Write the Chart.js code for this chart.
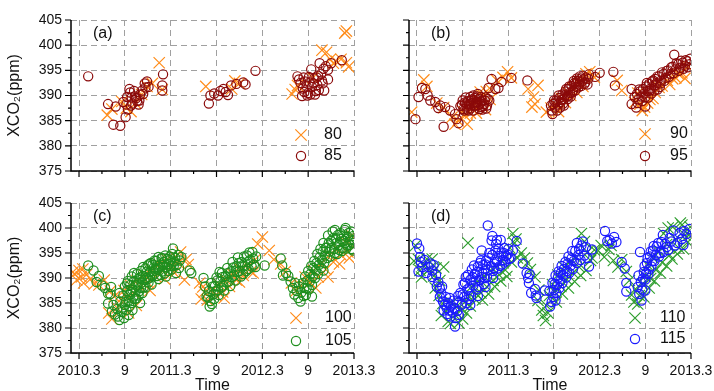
<!DOCTYPE html>
<html>
<head>
<meta charset="utf-8">
<script src="https://cdn.jsdelivr.net/npm/chart.js@4.4.1/dist/chart.umd.min.js"></script>
<style>
  body { margin: 0; background: #fff; overflow: hidden; width: 714px; height: 391px; position: relative; }
  canvas { position: absolute; }
</style>
</head>
<body>
<canvas id="ca" width="400" height="190" style="left:0;top:0"></canvas>
<canvas id="cb" width="359" height="190" style="left:355px;top:0"></canvas>
<canvas id="cc" width="400" height="205" style="left:0;top:190px"></canvas>
<canvas id="cd" width="359" height="205" style="left:355px;top:190px"></canvas>
<script>
// time axis = months since 2010.3
var xTicks = [0, 6, 12, 18, 24, 30, 36];
var xLabels = ['2010.3', '9', '2011.3', '9', '2012.3', '9', '2013.3'];
var xMinor = [3, 9, 15, 21, 27, 33];
var yTicks = [375, 380, 385, 390, 395, 400, 405];
var yMinor = [377.5, 382.5, 387.5, 392.5, 397.5, 402.5];
var xMin = -1.05, xMax = 36;

// (a)
var s80 = [[3.7,386.1],[4.3,387.3],[5.6,388.8],[6.2,387.5],[6.8,386.8],[7.4,388.5],[8.2,390.2],[8.9,391.8],[9.6,392.4],[10.5,396.5],[10.9,391.2],
  [16.6,391.8],[20.0,391.3],[20.4,392.9],[21.0,392.4],
  [27.9,390.3],[28.3,391.2],[28.6,392.0],[30.6,393.5],[31.8,399.0],[32.4,398.6],[32.9,397.2],[33.3,396.4],[33.7,396.8],[34.3,397.2],[34.8,402.4],[35.0,402.8],[35.3,395.7],[35.0,396.5]];
var s85 = [[1.2,393.8],[3.8,388.3],[4.5,384.2],[4.8,387.8],[5.4,384.0],[5.8,388.7],[6.1,385.7],[6.2,388.2],[6.4,387.2],[6.6,391.3],[6.7,390.6],[6.9,389.6],[7.0,388.4],[7.3,389.8],[7.6,388.9],[7.8,388.2],[8.0,390.2],[8.3,391.0],[8.6,392.4],[8.9,392.8],[9.1,391.7],[11.0,394.2],[10.9,392.0],[10.9,391.0],
  [6.3,389.7],[6.8,388.0],[7.2,390.9],[7.5,389.5],[7.9,389.0],[8.4,390.3],[8.7,391.6],
  [17.0,388.4],[17.2,390.0],[17.7,390.4],[18.2,390.0],[18.5,390.9],[18.9,391.3],[19.2,390.7],[19.5,390.1],[19.9,392.0],[20.6,392.3],[21.5,392.6],[21.8,392.2],[23.1,394.9],
  [28.6,393.8],[28.8,393.2],[29.0,392.5],[29.3,391.4],[29.5,390.7],[29.8,391.8],[30.0,390.5],[30.2,392.6],[30.4,395.2],[30.5,391.7],[30.8,393.4],[31.0,390.9],[31.2,392.1],[31.3,393.9],[31.5,396.4],[31.7,394.3],[31.9,392.4],[32.3,395.8],[32.6,395.1],[32.6,393.2],[33.0,396.4],[34.4,397.0],
  [29.2,389.9],[29.6,392.8],[29.9,390.0],[30.1,393.7],[30.3,390.2],[30.7,392.4],[30.9,390.2],[31.1,393.6],[31.4,391.1],[31.8,393.0],[32.0,395.3],[29.4,393.6],[32.1,391.0]];

// (b)
var s90 = [[-0.7,386.7],[0.9,393.1],[1.3,391.8],[2.6,388.5],[3.5,387.6],[4.6,385.7],[5.0,384.3],[5.4,385.0],[6.3,386.0],[6.6,384.3],[7.0,386.5],[7.5,387.9],[8.0,388.9],[8.5,390.0],[9.1,390.8],[9.7,391.2],[10.5,393.0],[11.3,393.6],[11.9,394.7],[12.4,393.5],
  [6.0,386.9],[7.8,386.5],[9.0,387.2],[9.6,389.2],[8.3,390.7],
  [14.6,391.3],[15.1,387.7],[15.3,389.7],[15.5,388.3],[15.9,392.0],
  [17.0,386.7],[17.6,387.5],[18.2,388.1],[19.0,389.4],[19.8,390.6],[20.5,391.5],[21.3,392.3],[22.7,394.7],[23.3,393.6],
  [18.6,386.8],[19.5,388.6],[20.2,390.0],[21.0,390.6],[21.8,391.8],[22.2,394.3],
  [26.3,393.0],[26.9,391.0],[28.6,388.6],[29.3,388.3],[29.9,387.7],[30.6,389.2],[31.3,390.6],[32.2,391.9],[32.9,393.0],[33.6,393.3],[34.4,394.2],[35.2,393.4],[35.6,395.8],
  [29.0,390.5],[29.6,387.0],[30.3,388.5],[31.0,389.4],[31.8,391.6],[33.2,392.2],[34.0,393.5],[34.8,394.5]];
var s95 = [[-0.2,385.3],[0.2,389.7],[0.65,391.5],[1.1,391.3],[1.4,390.0],[1.75,389.0],[2.4,388.7],[2.8,387.5],[3.05,388.0],[3.5,383.8],[3.7,387.7],[4.35,387.0],[5.0,386.3],[5.2,385.3],[5.45,384.5],
  [5.9,388.2],[6.1,387.3],[6.3,388.6],[6.5,387.8],[6.7,388.9],[6.9,388.0],[7.0,387.4],[7.2,389.2],[7.3,388.5],[7.5,387.9],[7.6,389.5],[7.8,388.7],[8.0,388.1],[8.1,389.3],[8.3,388.4],[8.5,387.7],[8.6,389.0],[8.8,388.3],[9.0,389.6],[9.2,388.0],[9.4,391.5],[9.8,393.3],[10.3,391.3],[10.7,391.5],[11.1,392.7],[12.4,393.5],
  [6.0,389.0],[6.2,387.0],[6.4,389.6],[6.6,387.2],[6.8,388.3],[7.1,388.9],[7.4,387.0],[7.7,388.0],[7.9,389.8],[8.2,387.3],[8.4,389.7],[8.7,387.9],[8.9,389.0],[9.1,387.4],[9.3,389.3],[6.5,388.4],[7.0,389.7],[7.9,388.6],[8.4,388.8],[8.6,387.2],[9.5,389.0],[6.8,387.0],[7.4,390.0],[5.7,387.9],[8.0,390.3],
  [14.5,393.0],
  [17.7,387.0],[17.9,388.3],[18.1,387.6],[18.3,389.0],[18.5,388.2],[18.7,389.5],[18.9,388.7],[19.1,390.2],[19.3,389.3],[19.5,390.8],[19.7,389.8],[19.9,391.3],[20.1,390.5],[20.3,391.9],[20.5,391.0],[20.7,392.5],[20.9,391.7],[21.1,392.9],[21.3,392.2],[21.5,393.4],[21.7,392.8],[21.9,393.2],[22.1,392.6],[22.5,393.3],[23.4,393.7],[24.0,394.5],
  [17.8,386.3],[18.0,389.0],[18.4,387.0],[18.6,390.0],[18.8,387.6],[19.0,389.1],[19.2,388.4],[19.4,390.0],[19.6,391.3],[19.8,389.3],[20.0,391.8],[20.2,389.8],[20.4,390.6],[20.6,392.9],[20.8,391.0],[21.0,393.4],[21.2,391.6],[21.4,392.7],[21.6,391.9],[21.8,393.9],[22.0,392.3],[22.2,393.6],[22.4,392.2],[19.3,388.0],[18.2,388.6],[20.9,392.3],[21.4,393.8],[22.6,394.2],[17.6,388.0],[19.9,390.0],
  [25.8,394.7],[26.0,392.0],[28.2,391.3],[28.2,388.3],[28.6,389.7],
  [28.9,390.3],[29.1,389.2],[29.3,390.8],[29.5,389.8],[29.7,391.3],[29.9,390.4],[30.1,391.8],[30.3,390.9],[30.5,392.3],[30.7,391.4],[30.9,392.8],[31.1,392.0],[31.3,393.3],[31.5,392.5],[31.8,393.8],[32.1,393.0],[32.4,394.3],[32.7,393.5],[33.0,395.0],[33.3,394.3],[33.6,395.7],[33.8,398.1],[34.0,395.2],[34.3,396.2],[34.6,395.5],[34.9,396.5],[35.2,395.9],[35.5,396.8],[35.8,396.2],
  [29.0,388.5],[29.2,391.2],[29.6,388.9],[30.0,389.7],[30.2,392.5],[30.4,389.6],[30.6,391.0],[30.8,390.4],[31.0,393.0],[31.2,391.0],[31.4,392.1],[31.6,393.8],[31.9,391.7],[32.0,392.4],[32.2,394.6],[32.5,392.9],[32.8,394.9],[33.1,393.7],[33.4,395.6],[33.7,394.4],[34.1,396.4],[34.4,394.9],[34.7,396.9],[35.0,395.3],[35.3,397.0],[35.6,395.6],[35.9,397.3],[28.8,387.6],[30.0,387.8],[31.6,391.2]];

// (c)
var s100 = [[-0.6,390.8],[-0.3,389.6],[0.0,391.5],[0.3,390.2],[0.6,389.0],[1.0,390.7],[2.6,388.6],[3.3,389.6],[4.1,387.4],[4.6,386.3],[3.9,383.0],[4.3,381.8],[5.0,384.0],[5.5,385.8],[5.9,387.5],[6.3,386.0],[6.7,388.6],[7.2,387.0],[7.6,389.5],[8.0,388.2],[8.5,390.6],[9.0,389.1],[9.5,391.6],[10.0,390.3],[10.5,392.7],[11.0,391.4],[11.5,393.7],[12.0,392.0],[12.6,394.3],[13.0,393.0],[13.8,389.6],[14.0,393.7],[14.3,392.7],
  [-0.8,391.2],[0.5,391.8],[1.5,389.8],[2.0,388.8],[6.5,383.0],[7.5,384.5],[9.3,387.5],[11.2,389.8],[12.5,391.0],[13.3,395.2],
  [15.8,389.0],[16.2,388.2],[16.4,387.2],[16.0,385.8],[16.8,385.6],[17.4,387.6],[17.9,386.5],[18.3,388.8],[18.8,387.2],[19.2,389.7],[19.7,388.3],[20.1,390.8],[20.6,389.6],[21.1,391.7],[21.5,390.5],[22.0,392.6],[22.5,391.3],[23.0,393.6],[23.4,396.8],[24.0,398.2],[24.9,395.5],[25.5,393.7],
  [19.0,386.0],[21.0,389.2],[22.8,391.0],
  [26.4,392.8],[27.0,391.3],[27.8,389.0],[28.4,387.4],[29.0,388.5],[29.6,390.2],[30.2,389.0],[30.7,391.5],[31.3,390.2],[31.8,393.0],[32.3,391.7],[32.8,394.6],[33.3,393.2],[33.8,395.9],[34.3,394.6],[34.8,397.3],[35.2,395.2],[35.7,398.5],[35.9,396.2],
  [31.0,388.0],[32.6,390.2],[34.1,392.8],[35.4,394.0]];
var s105 = [[1.2,392.5],[1.9,391.5],[2.3,389.2],[2.6,390.4],[3.0,388.5],[3.4,388.0],[3.8,386.9],[4.1,386.8],[4.2,388.2],[3.8,384.9],[4.3,383.3],[4.7,382.7],[4.5,384.6],[5.1,382.3],[5.0,383.8],[5.4,385.3],[5.3,387.0],[5.7,384.1],[5.8,386.5],[6.0,388.3],[6.1,385.2],[6.3,387.4],[6.4,389.4],[6.6,386.6],[6.7,388.6],[6.9,390.3],[7.0,387.6],[7.2,389.4],[7.3,385.8],[7.5,388.5],[7.6,390.8],[7.8,389.9],[7.9,387.4],[8.1,391.4],[8.2,389.1],[8.4,390.4],[8.5,388.2],[8.7,391.9],[8.8,390.0],[9.0,392.5],[9.1,389.1],[9.3,391.2],[9.4,393.0],[9.6,390.4],[9.8,392.1],[9.9,390.9],[10.1,393.4],[10.3,391.7],[10.4,389.8],[10.6,392.7],[10.8,394.0],[10.9,391.3],[11.1,393.2],[11.3,392.2],[11.4,390.3],[11.6,393.8],[11.8,392.8],[11.9,394.3],[12.1,391.7],[12.3,395.9],[12.5,393.3],[12.7,391.0],[13.0,394.6],[13.2,393.5],[14.5,391.5],[14.7,391.0],
  [5.6,383.2],[5.9,382.0],[6.0,384.6],[6.2,383.6],[6.3,388.9],[6.5,385.5],[6.6,384.3],[6.8,387.2],[6.9,385.0],[7.1,386.3],[7.2,391.0],[7.4,387.3],[7.5,385.9],[7.7,388.7],[7.8,386.5],[8.0,390.1],[8.1,388.0],[8.3,387.0],[8.4,392.2],[8.6,389.6],[8.7,388.1],[8.9,391.3],[9.0,389.8],[9.2,392.8],[9.3,390.1],[9.5,388.7],[9.6,392.6],[9.7,391.4],[9.9,393.5],[10.0,391.9],[10.2,390.4],[10.4,394.2],[10.5,392.1],[10.7,390.6],[10.9,393.9],[11.0,392.6],[11.2,390.9],[11.3,394.5],[11.5,392.2],[11.7,391.4],[11.9,393.6],[12.0,392.4],[12.2,394.8],[12.4,392.4],[12.6,394.0],[12.8,392.6],[13.1,392.0],[13.4,394.2],[7.0,383.6],[8.0,385.0],[5.3,381.6],[6.5,382.6],
  [16.3,390.0],[16.5,388.3],[16.7,386.3],[17.1,384.3],[17.0,387.4],[17.3,389.0],[17.6,386.8],[17.8,388.4],[18.0,390.1],[18.2,387.6],[18.5,389.3],[18.7,391.0],[18.9,388.5],[19.2,390.4],[19.4,392.0],[19.6,389.3],[19.9,391.3],[20.1,393.2],[20.3,390.5],[20.6,392.3],[20.8,394.1],[21.0,391.4],[21.3,393.2],[21.5,390.8],[21.7,392.4],[22.0,394.5],[22.2,391.8],[22.4,393.6],[22.7,395.2],[22.9,392.7],[23.2,394.3],[24.3,392.5],
  [17.2,385.4],[17.5,388.3],[17.7,385.8],[17.9,387.3],[18.1,389.5],[18.3,386.6],[18.6,388.1],[18.8,390.2],[19.0,387.5],[19.3,389.1],[19.5,391.0],[19.8,388.4],[20.0,390.2],[20.2,392.1],[20.5,389.5],[20.7,391.2],[20.9,393.0],[21.2,390.3],[21.4,392.3],[21.6,394.3],[21.9,391.4],[22.1,393.2],[22.3,395.1],[22.6,392.3],[22.8,393.9],[23.1,392.2],[18.4,391.2],[17.4,384.8],[16.9,386.1],
  [26.4,393.9],[26.6,392.5],[26.7,390.5],[27.1,391.0],[27.4,390.4],[27.7,389.3],[28.0,388.0],[28.2,386.7],[28.3,389.0],[28.5,387.4],[28.7,386.0],[28.8,388.3],[29.0,385.3],[29.1,387.1],[29.3,389.0],[29.4,386.4],[29.6,390.3],[29.8,388.0],[30.0,391.4],[30.2,389.3],[30.4,392.4],[30.6,390.3],[30.8,393.4],[31.0,391.5],[31.2,394.8],[31.4,392.6],[31.6,395.8],[31.8,393.6],[32.0,397.0],[32.2,394.5],[32.4,396.1],[32.6,398.5],[32.8,395.3],[33.0,397.4],[33.2,399.3],[33.4,395.8],[33.6,397.9],[33.8,394.8],[34.0,396.6],[34.2,399.0],[34.4,395.4],[34.6,397.4],[34.8,399.6],[35.0,395.9],[35.2,398.2],[35.4,396.6],[35.6,399.3],[35.8,397.0],[35.9,395.5],
  [29.5,388.0],[29.7,386.6],[29.9,389.5],[30.1,387.7],[30.3,390.8],[30.5,388.6],[30.7,392.0],[30.9,390.0],[31.1,393.0],[31.3,390.8],[31.5,394.1],[31.7,392.0],[31.9,395.3],[32.1,393.0],[32.3,396.0],[32.5,394.0],[32.7,397.0],[32.9,394.3],[33.1,396.0],[33.3,398.0],[33.5,395.0],[33.7,397.0],[33.9,398.6],[34.1,395.6],[34.3,397.8],[34.5,396.0],[34.7,398.5],[34.9,397.0],[35.1,396.5],[35.3,399.0],[35.5,397.7],[35.7,395.8],[35.9,398.4],[33.5,399.6],[34.9,400.0],[32.0,391.5],[30.5,386.3]];

// (d)
var s110 = [[-0.2,396.5],[0.2,393.7],[0.4,391.5],[0.6,390.2],[1.3,393.8],[2.0,393.8],[2.5,392.0],[3.5,392.2],[2.4,388.0],[2.9,386.5],[3.4,384.9],[3.8,383.3],[4.1,381.3],[4.6,385.0],[5.0,382.6],[5.5,381.0],[5.9,383.7],[6.3,385.2],[6.7,397.0],[6.8,386.3],[7.2,388.3],[7.6,385.8],[8.0,389.3],[8.4,387.0],[8.8,390.4],[9.2,388.2],[9.6,391.5],[10.0,389.5],[10.4,392.3],[10.8,390.6],[11.2,393.4],[11.6,391.6],[12.2,396.0],[12.6,398.9],[13.0,397.8],[13.7,395.0],[14.1,394.0],[14.5,393.0],[14.9,391.7],[15.5,390.2],
  [-0.4,393.4],[0.8,392.6],[1.6,391.8],[2.2,390.4],[3.0,389.5],[3.2,382.5],[4.4,380.9],[5.2,384.3],[6.0,381.8],[6.5,383.0],[7.0,384.4],[7.8,386.8],[8.6,385.6],[9.4,386.8],[10.2,388.3],[11.0,389.4],[11.8,390.3],[12.4,393.2],[13.2,394.0],[12.8,397.0],
  [15.9,385.5],[16.4,383.6],[16.6,382.5],[17.0,384.5],[17.4,386.5],[17.8,388.7],[18.1,387.2],[18.5,390.6],[18.9,388.3],[19.3,392.2],[19.7,389.7],[20.1,393.2],[20.5,391.0],[20.9,394.1],[21.3,392.2],[21.6,398.9],[22.0,397.3],[22.4,395.2],[22.8,393.5],[23.3,395.6],[23.8,395.5],[24.6,394.2],[25.2,395.7],[25.8,393.5],[26.9,393.7],[27.5,391.3],[27.9,389.5],[28.2,386.6],[28.7,387.8],[29.2,386.5],
  [16.0,387.6],[16.9,381.5],[17.2,383.0],[18.3,385.2],[19.1,386.8],[19.9,388.0],[20.7,389.3],[21.5,390.5],[22.2,391.5],[23.0,394.0],[24.2,396.5],[25.5,396.5],[26.4,392.2],[28.5,385.2],[29.0,384.8],
  [29.6,388.8],[30.0,390.4],[30.3,392.6],[30.7,389.9],[31.0,394.0],[31.4,391.6],[31.8,395.3],[32.2,393.1],[32.4,398.9],[32.8,396.7],[33.2,394.6],[33.6,400.2],[34.0,397.8],[34.4,396.0],[34.8,400.6],[35.2,398.6],[35.6,397.2],[35.9,400.2],
  [29.8,386.2],[30.5,388.0],[31.2,389.4],[32.0,391.0],[32.8,392.4],[33.5,393.8],[34.2,394.8],[35.0,395.8],[35.7,398.6],[36.0,399.0],[33.0,400.0],[34.6,401.0]];
var s115 = [[0.0,396.9],[0.3,395.9],[0.4,394.2],[0.5,393.2],[0.7,392.2],[0.2,391.3],[1.5,392.2],[2.0,391.5],[2.0,390.2],[2.2,392.6],[2.8,389.2],[3.0,387.9],[3.2,386.9],[3.4,385.3],[3.6,384.7],[3.8,386.2],[4.1,385.0],[4.2,383.5],[4.5,384.5],[4.9,384.0],[5.0,380.3],[5.2,385.1],[5.3,383.4],[5.7,387.0],[5.9,384.7],[6.1,388.7],[6.2,386.2],[6.4,390.2],[6.6,387.7],[6.8,385.8],[7.0,389.6],[7.2,391.7],[7.4,388.5],[7.6,390.8],[7.8,387.7],[8.0,392.3],[8.2,389.6],[8.4,393.5],[8.5,395.5],[8.6,391.0],[8.8,388.8],[9.0,392.7],[9.2,390.2],[9.4,394.0],[9.3,400.5],[9.8,397.5],[10.0,391.4],[10.2,393.2],[10.5,397.6],[10.6,391.9],[10.8,394.4],[11.0,397.6],[11.2,392.7],[11.4,395.0],[11.6,393.3],[11.9,394.7],[12.1,393.8],[13.1,397.4],
  [1.0,393.6],[1.2,391.0],[1.8,392.9],[2.5,390.6],[2.6,388.3],[3.0,386.2],[3.3,388.3],[3.5,383.5],[3.9,384.0],[4.0,382.8],[4.3,386.0],[4.4,382.3],[4.7,383.1],[4.8,385.5],[5.1,382.0],[5.4,386.4],[5.5,382.6],
  [6.0,386.7],[6.3,389.0],[6.5,385.0],[6.7,390.6],[6.9,388.1],[7.1,386.4],[7.3,390.2],[7.5,392.5],[7.7,389.3],[7.9,391.2],[8.1,388.2],[8.3,393.0],[8.5,390.2],[8.7,392.6],[8.9,390.0],[9.1,393.5],[9.3,391.6],[9.5,395.0],[9.7,392.4],[9.9,394.6],[10.1,392.0],[10.3,395.5],[10.5,393.3],[10.7,395.8],[10.9,392.4],[11.1,395.1],[11.3,393.6],[11.5,396.0],[11.7,394.4],[12.0,395.8],[12.3,394.0],[12.6,395.5],[7.0,384.6],[8.0,386.4],[9.0,388.2],[10.0,390.0],[10.4,396.8],[9.9,398.4],
  [13.9,392.9],[14.6,390.0],[14.7,389.0],[14.8,390.8],[15.6,386.5],[15.7,386.0],[16.8,387.5],[17.4,387.4],[17.7,385.2],[17.8,389.0],[18.0,387.6],[18.2,390.5],[18.4,388.6],[18.6,391.3],[18.8,389.4],[19.0,392.4],[19.2,390.5],[19.5,393.2],[19.7,391.4],[19.9,394.3],[20.2,392.5],[20.4,395.4],[20.6,393.4],[21.0,397.0],[21.2,394.6],[21.6,396.5],[22.2,396.2],[22.6,392.3],[23.0,395.7],
  [17.9,386.2],[18.1,388.8],[18.3,387.0],[18.5,390.0],[18.7,388.0],[18.9,391.0],[19.1,389.0],[19.3,391.8],[19.6,390.1],[19.8,392.9],[20.0,391.0],[20.3,393.9],[20.5,391.8],[20.8,395.4],[21.0,393.0],[21.3,395.8],[21.5,393.6],[21.8,397.3],[22.0,394.5],[22.4,394.0],[17.5,384.3],[18.2,385.5],[15.5,387.8],[15.0,387.0],[14.4,391.0],
  [24.7,399.4],[25.0,397.4],[25.3,397.6],[25.6,396.9],[25.9,398.2],[26.2,397.2],[26.9,393.2],[27.3,391.9],[27.5,389.0],[27.5,387.3],
  [29.0,388.2],[29.1,390.5],[29.2,386.8],[29.3,395.2],[29.4,389.2],[29.6,387.7],[29.8,391.2],[30.0,389.7],[30.2,393.0],[30.4,390.8],[30.6,394.3],[30.8,392.3],[31.0,395.5],[31.2,393.4],[31.5,396.3],[31.8,394.3],[32.1,397.2],[32.4,395.2],[32.8,396.2],[33.2,398.0],[33.7,399.5],[34.2,397.0],[34.8,397.8],[35.1,399.4],[35.8,399.8],
  [29.7,389.9],[29.9,392.4],[30.1,390.9],[30.3,394.0],[30.5,391.8],[30.7,395.3],[30.9,393.4],[31.1,396.4],[31.4,394.6],[31.7,397.0],[32.0,395.0],[32.3,398.6],[32.6,396.8],[33.0,395.6],[33.4,397.3],[33.9,396.5],[34.5,399.0],[35.0,396.6],[35.4,398.8],[30.0,387.5],[29.5,385.5]];

var FONT = '"Liberation Sans", Arial, sans-serif';
var ORANGE = '#FF8C1A', DARKRED = '#8B0A0A', GREEN = '#1F8F1F', GREENX = '#2E9E2E', BLUE = '#1A1AFF';

function crossSet(label, data, color) {
  return { label: label, data: data, pointStyle: 'crossRot', radius: 8, borderColor: color,
           backgroundColor: color, borderWidth: 1.2 };
}
function circleSet(label, data, color) {
  return { label: label, data: data, pointStyle: 'circle', radius: 4.6, borderColor: color,
           backgroundColor: 'rgba(0,0,0,0)', borderWidth: 1.2 };
}

// axes, minor ticks, panel tag and legend
var frame = {
  id: 'frame',
  afterDraw: function (chart, args, o) {
    var ctx = chart.ctx, a = chart.chartArea, x = chart.scales.x, y = chart.scales.y;
    ctx.save();
    ctx.strokeStyle = '#000';
    ctx.lineWidth = 1.5;
    ctx.beginPath();
    ctx.moveTo(a.left, a.top); ctx.lineTo(a.left, a.bottom); ctx.lineTo(a.right, a.bottom);
    ctx.stroke();
    ctx.lineWidth = 1.2;
    ctx.beginPath();
    xTicks.forEach(function (v) { var p = x.getPixelForValue(v); ctx.moveTo(p, a.bottom); ctx.lineTo(p, a.bottom + 6); });
    xMinor.forEach(function (v) { var p = x.getPixelForValue(v); ctx.moveTo(p, a.bottom); ctx.lineTo(p, a.bottom + 3); });
    yTicks.forEach(function (v) { var p = y.getPixelForValue(v); ctx.moveTo(a.left, p); ctx.lineTo(a.left - 6, p); });
    yMinor.forEach(function (v) { var p = y.getPixelForValue(v); ctx.moveTo(a.left, p); ctx.lineTo(a.left - 3, p); });
    ctx.stroke();

    ctx.fillStyle = '#111';
    ctx.font = '16px ' + FONT;
    ctx.textBaseline = 'middle';
    ctx.textAlign = 'left';
    ctx.fillText(o.tag, a.left + 22, a.top + 14);

    o.rows.forEach(function (r) {
      var ds = chart.data.datasets[r.i];
      ctx.strokeStyle = ds.borderColor;
      ctx.fillStyle = 'rgba(0,0,0,0)';
      ctx.lineWidth = ds.borderWidth;
      Chart.helpers.drawPoint(ctx, { pointStyle: ds.pointStyle, radius: ds.radius, borderWidth: ds.borderWidth, rotation: 0 }, o.mx, r.y);
      ctx.fillStyle = '#111';
      ctx.fillText(ds.label, o.tx, r.y);
    });
    ctx.restore();
  }
};

function panel(id, opt) {
  var axisFont = { family: FONT, size: 14 };
  new Chart(document.getElementById(id), {
    type: 'scatter',
    data: { datasets: opt.sets },
    plugins: [frame],
    options: {
      responsive: false,
      animation: false,
      events: [],
      layout: { padding: { top: opt.top, right: opt.right, left: 0, bottom: 0 } },
      plugins: {
        legend: { display: false },
        tooltip: { enabled: false },
        frame: { tag: opt.tag, rows: opt.rows, mx: opt.mx, tx: opt.tx }
      },
      scales: {
        x: {
          type: 'linear', min: xMin, max: xMax,
          afterBuildTicks: function (s) { s.ticks = xTicks.map(function (v) { return { value: v }; }); },
          afterFit: function (s) { s.height = opt.xh; s.paddingLeft = 0; s.paddingRight = 0; },
          grid: { color: '#A0A0A0', lineWidth: 1, drawTicks: false },
          border: { display: false, dash: [6, 4] },
          ticks: {
            display: opt.xlab, color: '#111', font: axisFont, padding: 10, maxRotation: 0, autoSkip: false,
            callback: function (v) { return xLabels[xTicks.indexOf(v)]; }
          },
          title: { display: opt.xlab, text: 'Time', color: '#111', font: { family: FONT, size: 16 }, padding: { top: 1, bottom: 0 } }
        },
        y: {
          type: 'linear', min: 375, max: 405,
          afterBuildTicks: function (s) { s.ticks = yTicks.map(function (v) { return { value: v }; }); },
          afterFit: function (s) { s.width = opt.yw; s.paddingTop = 0; s.paddingBottom = 0; },
          grid: { color: '#A0A0A0', lineWidth: 1, drawTicks: false },
          border: { display: false, dash: [6, 4] },
          ticks: { display: opt.ylab, color: '#111', font: axisFont, padding: 9 },
          title: { display: opt.ylab, text: 'XCO\u2082(ppm)', color: '#111', font: { family: FONT, size: 16 }, padding: { top: 5, bottom: 0 } }
        }
      }
    }
  });
}

panel('ca', { tag: '(a)', sets: [circleSet('85', s85, DARKRED), crossSet('80', s80, ORANGE)],
  top: 20, right: 46, xh: 19, yw: 71, xlab: false, ylab: true, mx: 301, tx: 324, rows: [{ i: 1, y: 135 }, { i: 0, y: 156 }] });
panel('cb', { tag: '(b)', sets: [circleSet('95', s95, DARKRED), crossSet('90', s90, ORANGE)],
  top: 20, right: 23, xh: 19, yw: 54, xlab: false, ylab: false, mx: 290, tx: 315, rows: [{ i: 1, y: 134 }, { i: 0, y: 156 }] });
panel('cc', { tag: '(c)', sets: [circleSet('105', s105, GREEN), crossSet('100', s100, ORANGE)],
  top: 13, right: 46, xh: 42, yw: 71, xlab: true, ylab: true, mx: 296, tx: 325, rows: [{ i: 1, y: 128 }, { i: 0, y: 151 }] });
panel('cd', { tag: '(d)', sets: [circleSet('115', s115, BLUE), crossSet('110', s110, GREENX)],
  top: 13, right: 23, xh: 42, yw: 54, xlab: true, ylab: false, mx: 280, tx: 305, rows: [{ i: 1, y: 128 }, { i: 0, y: 149 }] });
</script>
</body>
</html>
